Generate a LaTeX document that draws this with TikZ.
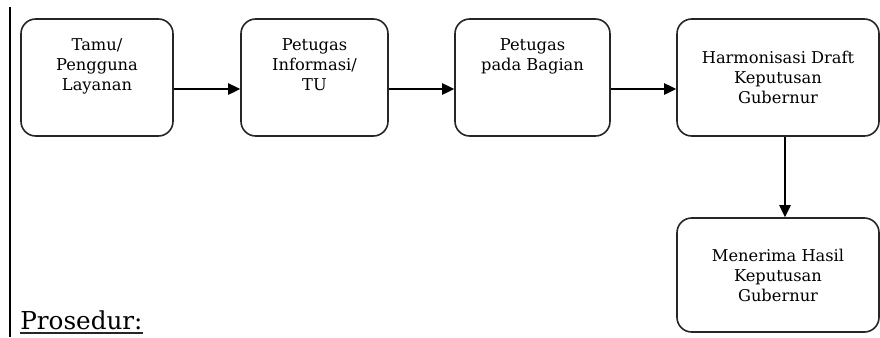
\documentclass[tikz,border=0pt]{standalone}
\usepackage{fontspec}
\setmainfont{DejaVu Serif}
\usetikzlibrary{calc,arrows.meta}

\tikzset{
  langkah/.style={draw=black!85, line width=1.2pt, rounded corners=11pt, minimum height=87.75pt, inner sep=0pt},
  teks/.style={align=center, font=\fontsize{12.2}{15}\selectfont, inner sep=0pt},
  panah/.style={-{Triangle[length=9pt,width=8.5pt]}, line width=1.1pt}
}

\begin{document}
\begin{tikzpicture}[x=0.75pt,y=-0.75pt]
  \useasboundingbox (0,0) rectangle (880,337);
  % garis tepi kiri
  \draw[line width=1.5pt] (10,7) -- (10,337);

  % kotak-kotak
  \node[langkah, minimum width=114pt] (tamu) at (97,77.5) {};
  \node[langkah, minimum width=110.25pt] (petugas) at (314.5,77.5) {};
  \node[langkah, minimum width=116.25pt] (bagian) at (532.5,77.5) {};
  \node[langkah, teks, minimum width=151.5pt] (harmonisasi) at (778,77.5) {Harmonisasi Draft\\Keputusan\\Gubernur};
  \node[langkah, teks, minimum width=151.5pt, minimum height=85.5pt] (hasil) at (778,275) {Menerima Hasil\\Keputusan\\Gubernur};

  % teks di bagian atas kotak
  \node[teks, anchor=north] (tamuteks) at ($(tamu.north)+(0,20)$) {Tamu/\\Pengguna\\Layanan};
  \node[teks, anchor=north] (petugasteks) at ($(petugas.north)+(0,20)$) {Petugas\\Informasi/\\TU};
  \node[teks, anchor=north] (bagianteks) at ($(bagian.north)+(0,20)$) {Petugas\\pada Bagian};

  % panah
  \draw[panah] ($(tamu.east)+(0,11.5)$) -- ($(petugas.west)+(0,11.5)$);
  \draw[panah] ($(petugas.east)+(0,11.5)$) -- ($(bagian.west)+(0,11.5)$);
  \draw[panah] ($(bagian.east)+(0,11.5)$) -- ($(harmonisasi.west)+(0,11.5)$);
  \draw[panah] ($(harmonisasi.south)+(7,0)$) -- ($(hasil.north)+(7,0)$);

  % judul
  \node[anchor=base west, inner sep=0pt, font=\fontsize{18.5}{18.5}\selectfont] (prosedur) at (20,329) {Prosedur:};
  \draw[line width=1.3pt, black!85] ($(prosedur.base west)+(0,4)$) -- ($(prosedur.base east)+(0,4)$);
\end{tikzpicture}
\end{document}
